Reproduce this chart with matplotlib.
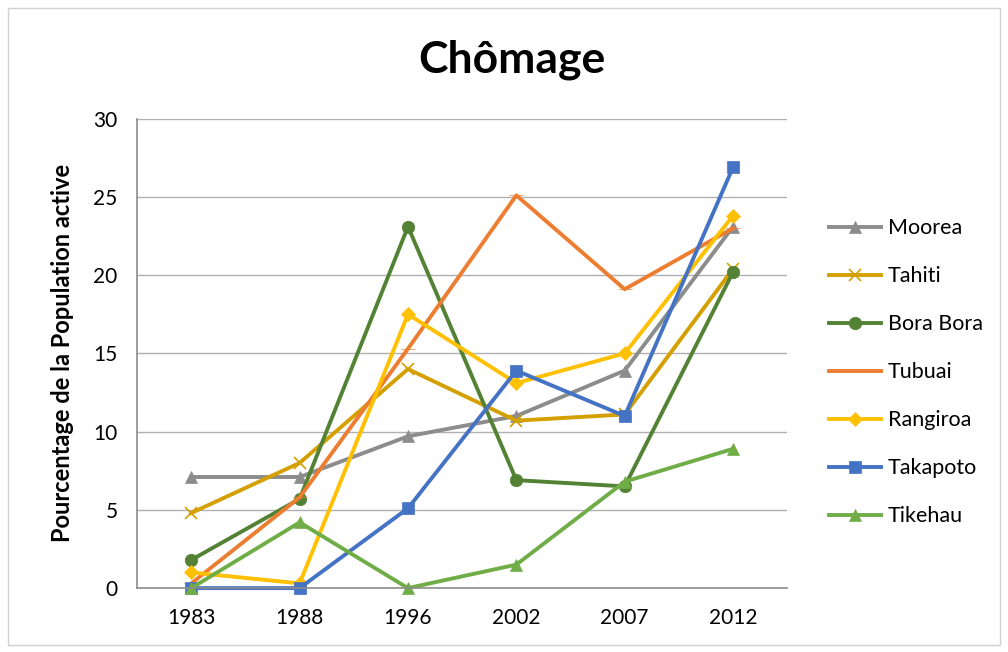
import matplotlib
matplotlib.use("Agg")
import matplotlib.pyplot as plt
from matplotlib.patches import Rectangle

years = ["1983", "1988", "1996", "2002", "2007", "2012"]

moorea = [7.1, 7.1, 9.7, 11.0, 13.9, 23.1]
tahiti = [4.8, 8.0, 14.0, 10.7, 11.1, 20.4]
bora_bora = [1.8, 5.7, 23.1, 6.9, 6.5, 20.2]
tubuai = [0.3, 5.8, 15.3, 25.1, 19.1, 23.0]
rangiroa = [1.0, 0.3, 17.5, 13.1, 15.0, 23.8]
takapoto = [0.0, 0.0, 5.1, 13.9, 11.0, 26.9]
tikehau = [0.0, 4.2, 0.0, 1.5, 6.8, 8.9]

series = [
    ("Moorea", moorea, "#8c8c8c", "^", 9),
    ("Tahiti", tahiti, "#d4a000", "x", 9),
    ("Bora Bora", bora_bora, "#548235", "o", 9),
    ("Tubuai", tubuai, "#ed7d31", "_", 10),
    ("Rangiroa", rangiroa, "#ffc000", "D", 7),
    ("Takapoto", takapoto, "#4472c4", "s", 9),
    ("Tikehau", tikehau, "#70ad47", "^", 9),
]

plt.rcParams["font.family"] = ["Lato", "DejaVu Sans"]

fig = plt.figure(figsize=(10.08, 6.52), dpi=100)
fig.patches.append(Rectangle((0.008, 0.01), 0.984, 0.978, transform=fig.transFigure,
                             fill=False, edgecolor="#d0d0d0", linewidth=1))
ax = fig.add_axes([0.136, 0.098, 0.645, 0.72])

x = range(len(years))
for name, vals, color, marker, ms in series:
    ax.plot(x, vals, color=color, linewidth=2.8, marker=marker, markersize=ms,
            markeredgewidth=1.2 if marker == "x" else 0.5,
            markeredgecolor=color, markerfacecolor=color, label=name, clip_on=False)

ax.set_xlim(-0.5, len(years) - 0.5)
ax.set_ylim(0, 30)
ax.set_yticks(range(0, 31, 5))
ax.set_xticks(list(x))
ax.set_xticklabels(years)
ax.tick_params(axis="both", length=0, labelsize=15)
ax.tick_params(axis="y", pad=14)
ax.tick_params(axis="x", pad=14)
ax.grid(axis="y", color="#b0b0b0", linewidth=1)
ax.set_axisbelow(True)
for side in ["top", "right"]:
    ax.spines[side].set_visible(False)
for side in ["left", "bottom"]:
    ax.spines[side].set_color("#8c8c8c")
    ax.spines[side].set_linewidth(1.2)

ax.set_ylabel("Pourcentage de la Population active", fontsize=17, fontweight="bold", labelpad=14)
fig.text(0.508, 0.908, "Chômage", fontsize=32, fontweight="bold", ha="center", va="center")

ax.legend(loc="center left", bbox_to_anchor=(1.035, 0.46), frameon=False, fontsize=15.5,
          handlelength=2.4, labelspacing=1.3, handletextpad=0.3)

fig.savefig("out.png", dpi=100)
